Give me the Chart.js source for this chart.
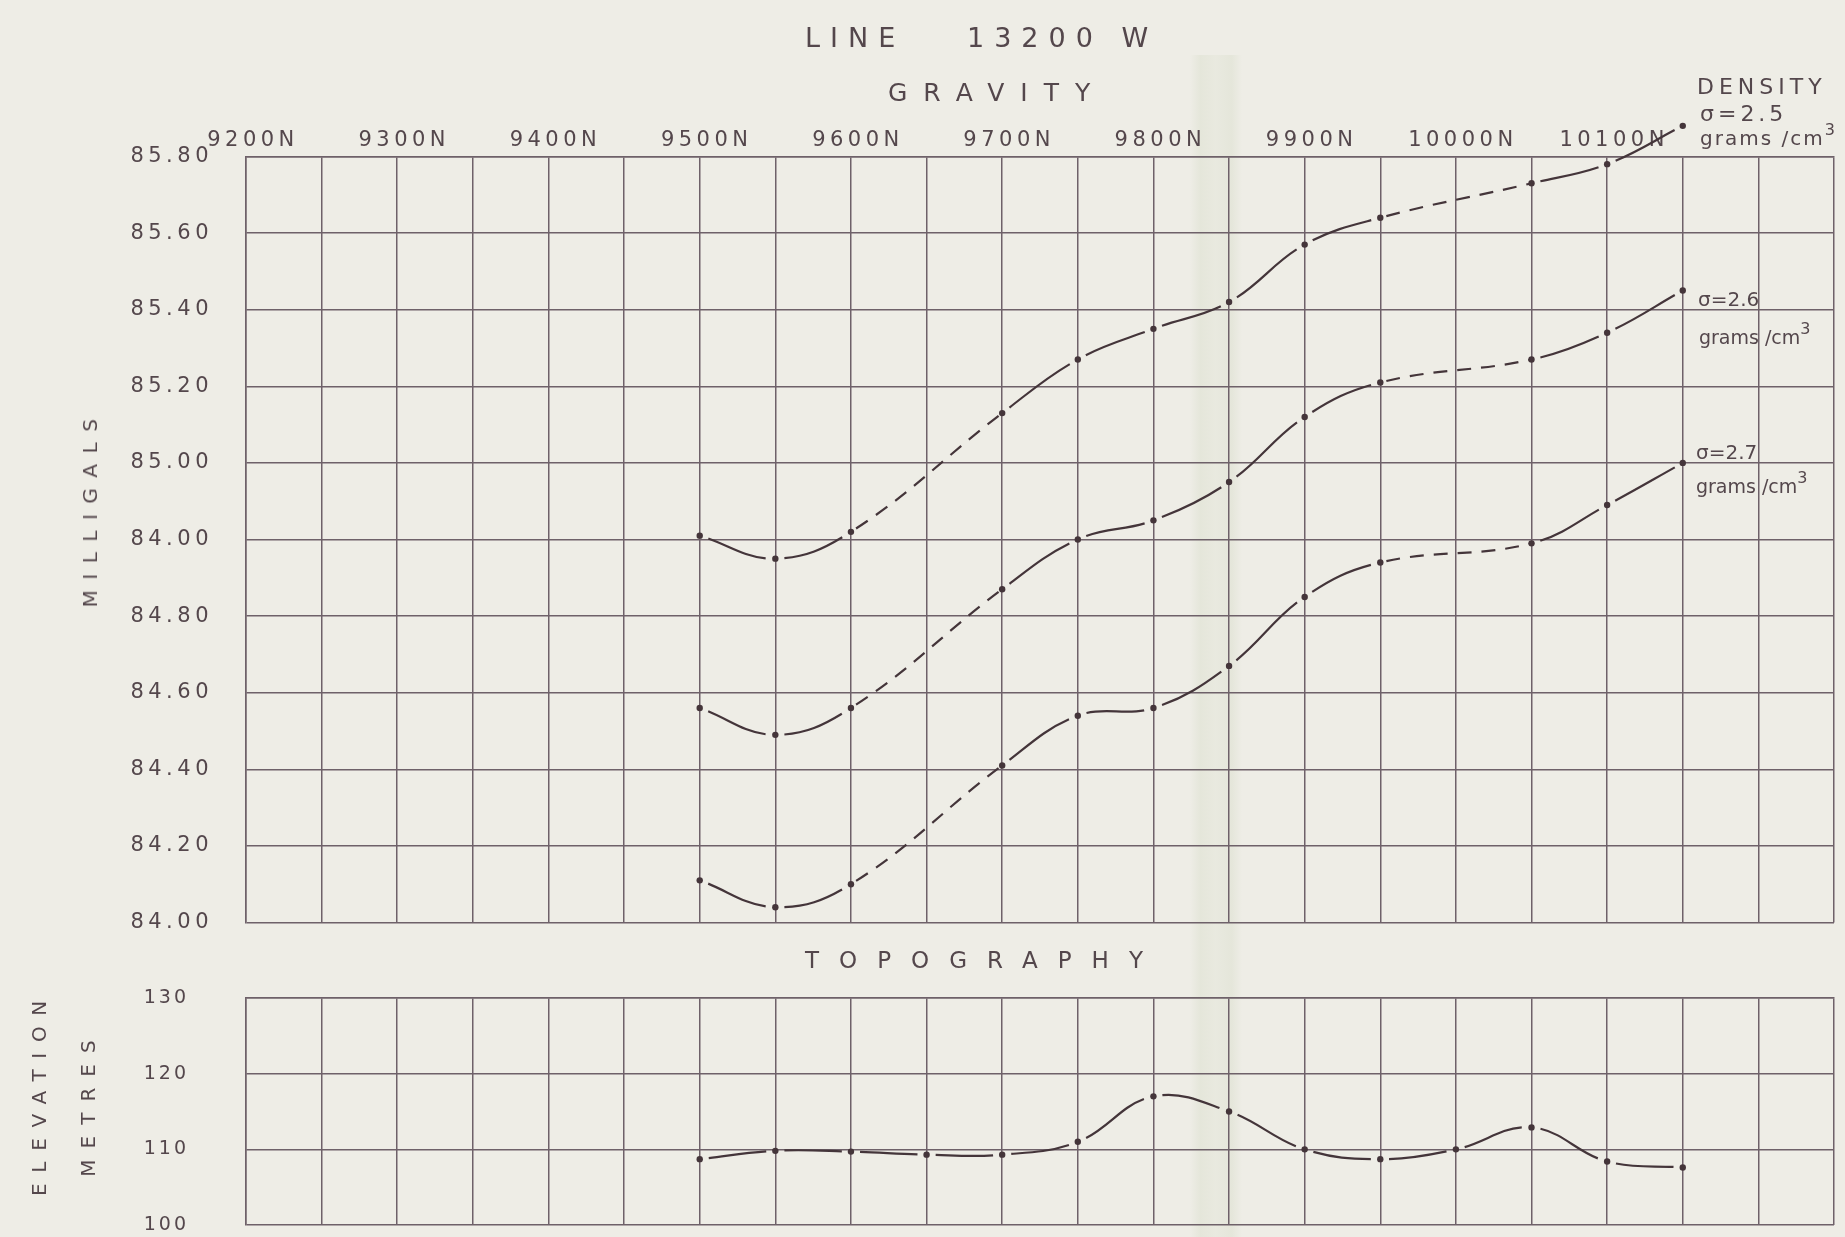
<!DOCTYPE html>
<html>
<head>
<meta charset="utf-8">
<title>Line 13200 W - Gravity and Topography</title>
<script src="https://cdn.jsdelivr.net/npm/chart.js@4.4.1/dist/chart.umd.min.js"></script>
<style>
    html, body { margin: 0; padding: 0; background: #eeede6; }
    #sheet {
        position: relative; width: 1845px; height: 1237px; overflow: hidden;
        background: #eeede6; font-family: "DejaVu Sans", sans-serif; color: #54474c;
    }
    #sheet canvas { position: absolute; left: 0; }
    .lbl { position: absolute; white-space: nowrap; line-height: 1; }
    .rot { transform: translate(-50%, -50%) rotate(-90deg); }
    .sup { font-size: 16px; position: relative; top: -10px; }
    .stripe {
        position: absolute; left: 1190px; top: 55px; width: 52px; height: 1182px;
        background: linear-gradient(90deg, rgba(196, 206, 176, 0) 0%, rgba(196, 206, 176, 0.22) 20%,
            rgba(196, 206, 176, 0.12) 50%, rgba(196, 206, 176, 0.22) 80%, rgba(196, 206, 176, 0) 100%);
    }
</style>
</head>
<body>
<div id="sheet">
    <div class="stripe"></div>
    <canvas id="gravity-chart" width="1845" height="945" style="top:0"></canvas>
    <canvas id="topo-chart" width="1845" height="287" style="top:950px"></canvas>

    <div class="lbl" style="left:805px; top:24px; font-size:27px; letter-spacing:10px">LINE</div>
    <div class="lbl" style="left:967px; top:24px; font-size:27px; letter-spacing:10px">13200 W</div>
    <div class="lbl" style="left:888px; top:80px; font-size:25px; letter-spacing:16px">GRAVITY</div>
    <div class="lbl" style="left:805px; top:949px; font-size:23px; letter-spacing:20px">TOPOGRAPHY</div>

    <div class="lbl rot" style="left:90px; top:508px; font-size:20px; letter-spacing:10.5px">MILLIGALS</div>
    <div class="lbl rot" style="left:39px; top:1093px; font-size:20px; letter-spacing:10.7px">ELEVATION</div>
    <div class="lbl rot" style="left:88px; top:1103px; font-size:20px; letter-spacing:11px">METRES</div>

    <div class="lbl" style="left:1697px; top:76px; font-size:22px; letter-spacing:5px">DENSITY</div>
    <div class="lbl" style="left:1700px; top:103px; font-size:22px; letter-spacing:4px">σ=2.5</div>
    <div class="lbl" style="left:1700px; top:128px; font-size:20px; letter-spacing:2px">grams /cm<span class="sup">3</span></div>

    <div class="lbl" style="left:1698px; top:289px; font-size:20px">σ=2.6</div>
    <div class="lbl" style="left:1699px; top:328px; font-size:19px">grams /cm<span class="sup">3</span></div>

    <div class="lbl" style="left:1696px; top:442px; font-size:20px">σ=2.7</div>
    <div class="lbl" style="left:1696px; top:477px; font-size:19px">grams /cm<span class="sup">3</span></div>
</div>

<script>
// Stations (metres north) and Bouguer gravity for each reduction density
const STATIONS = [9500, 9550, 9600, 9700, 9750, 9800, 9850, 9900, 9950, 10050, 10100, 10150];
const DENSITY_25 = [84.81, 84.75, 84.82, 85.13, 85.27, 85.35, 85.42, 85.57, 85.64, 85.73, 85.78, 85.88];
const DENSITY_26 = [84.36, 84.29, 84.36, 84.67, 84.80, 84.85, 84.95, 85.12, 85.21, 85.27, 85.34, 85.45];
const DENSITY_27 = [83.91, 83.84, 83.90, 84.21, 84.34, 84.36, 84.47, 84.65, 84.74, 84.79, 84.89, 85.00];

// Topography
const TOPO_STATIONS = [9500, 9550, 9600, 9650, 9700, 9750, 9800, 9850, 9900, 9950, 10000, 10050, 10100, 10150];
const ELEVATION = [108.7, 109.8, 109.7, 109.3, 109.3, 111.0, 117.0, 115.0, 110.0, 108.7, 110.0, 112.9, 108.4, 107.6];

// Axis labels (as lettered on the sheet)
const X_TICK_VALUES = [9200, 9300, 9400, 9500, 9600, 9700, 9800, 9900, 10000, 10100];
const X_TICK_LABELS = ['9200N', '9300N', '9400N', '9500N', '9600N', '9700N', '9800N', '9900N', '10000N', '10100N'];
const GRAVITY_TICKS = ['85.80', '85.60', '85.40', '85.20', '85.00', '84.00', '84.80', '84.60', '84.40', '84.20', '84.00'];
const ELEVATION_TICKS = ['130', '120', '110', '100'];

const INK = '#44353a';
const GRID = '#6e6169';
const TEXT = '#54474c';
const FONT = '"DejaVu Sans", sans-serif';
const PEN_GAP = 9;

class LineProfile {
    constructor() {
        this.charts = {};
    }

    render() {
        this.initCharts();
    }

    points(xs, ys) {
        return xs.map((x, i) => ({ x, y: ys[i] }));
    }

    xScale(showLabels, height) {
        return {
            type: 'linear',
            position: 'top',
            min: 9200,
            max: 10250,
            grid: { color: GRID, lineWidth: 1.5, drawTicks: false },
            border: { display: true, color: GRID, width: 1.5 },
            ticks: {
                display: showLabels,
                stepSize: 50,
                autoSkip: false,
                maxRotation: 0,
                padding: 3,
                labelOffset: 7,
                color: TEXT,
                font: { family: FONT, size: 21 },
                callback: v => {
                    const i = X_TICK_VALUES.indexOf(v);
                    return i >= 0 ? X_TICK_LABELS[i] : '';
                }
            },
            afterFit: scale => {
                scale.height = height;
                scale.paddingLeft = 0;
                scale.paddingRight = 0;
            }
        };
    }

    yScale(min, max, step, labels, fontSize, padding) {
        return {
            type: 'linear',
            min,
            max,
            grid: { color: GRID, lineWidth: 1.5, drawTicks: false },
            border: { display: true, color: GRID, width: 1.5 },
            ticks: {
                stepSize: step,
                padding,
                color: TEXT,
                font: { family: FONT, size: fontSize },
                callback: v => labels[Math.round((max - v) / step)]
            },
            afterFit: scale => {
                scale.width = 246;
                scale.paddingTop = 0;
                scale.paddingBottom = 0;
            }
        };
    }

    // pen lifts near each station dot, dashed where stations were skipped
    penSegment() {
        const skipped = ctx => ctx.p1.parsed.x - ctx.p0.parsed.x > 50;
        const chord = ctx => Math.hypot(ctx.p1.x - ctx.p0.x, ctx.p1.y - ctx.p0.y);
        return {
            borderDash: ctx => (skipped(ctx) ? [14, 10] : [Math.max(chord(ctx) - 2 * PEN_GAP, 1), 2 * PEN_GAP]),
            borderDashOffset: ctx => (skipped(ctx) ? 18 : chord(ctx) - PEN_GAP)
        };
    }

    curve(label, xs, ys) {
        return {
            label,
            data: this.points(xs, ys),
            borderColor: INK,
            backgroundColor: INK,
            borderWidth: 2.2,
            pointRadius: 3.2,
            pointBorderWidth: 0,
            pointBackgroundColor: INK,
            tension: 0.4,
            clip: false,
            capBezierPoints: false,
            segment: this.penSegment()
        };
    }

    plugins(spacing) {
        return [
            {
                id: 'letterSpacing',
                beforeDraw(chart) { chart.ctx.letterSpacing = spacing; }
            },
            {
                // points plotted beyond the top of the grid
                id: 'outsidePoints',
                afterDatasetsDraw(chart) {
                    const { ctx, chartArea } = chart;
                    chart.data.datasets.forEach((ds, i) => {
                        chart.getDatasetMeta(i).data.forEach(pt => {
                            if (pt.y < chartArea.top - 2) {
                                ctx.save();
                                ctx.fillStyle = INK;
                                ctx.beginPath();
                                ctx.arc(pt.x, pt.y, 3.2, 0, Math.PI * 2);
                                ctx.fill();
                                ctx.restore();
                            }
                        });
                    });
                }
            }
        ];
    }

    initCharts() {
        // Gravity Chart
        this.charts.gravity = new Chart(document.getElementById('gravity-chart'), {
            type: 'line',
            data: {
                datasets: [
                    this.curve('σ=2.5', STATIONS, DENSITY_25),
                    this.curve('σ=2.6', STATIONS, DENSITY_26),
                    this.curve('σ=2.7', STATIONS, DENSITY_27)
                ]
            },
            options: {
                responsive: false,
                animation: false,
                layout: { padding: { left: 0, top: 0, right: 11, bottom: 22.5 } },
                plugins: { legend: { display: false }, tooltip: { enabled: false } },
                scales: {
                    x: this.xScale(true, 156.5),
                    y: this.yScale(83.8, 85.8, 0.2, GRAVITY_TICKS, 21, 33)
                }
            },
            plugins: this.plugins('4.5px')
        });

        // Topography Chart
        this.charts.topo = new Chart(document.getElementById('topo-chart'), {
            type: 'line',
            data: {
                datasets: [this.curve('Elevation', TOPO_STATIONS, ELEVATION)]
            },
            options: {
                responsive: false,
                animation: false,
                layout: { padding: { left: 0, top: 0, right: 11, bottom: 12 } },
                plugins: { legend: { display: false }, tooltip: { enabled: false } },
                scales: {
                    x: this.xScale(false, 48),
                    y: this.yScale(100, 130, 10, ELEVATION_TICKS, 19, 57)
                }
            },
            plugins: this.plugins('3px')
        });
    }
}

new LineProfile().render();
</script>
</body>
</html>
